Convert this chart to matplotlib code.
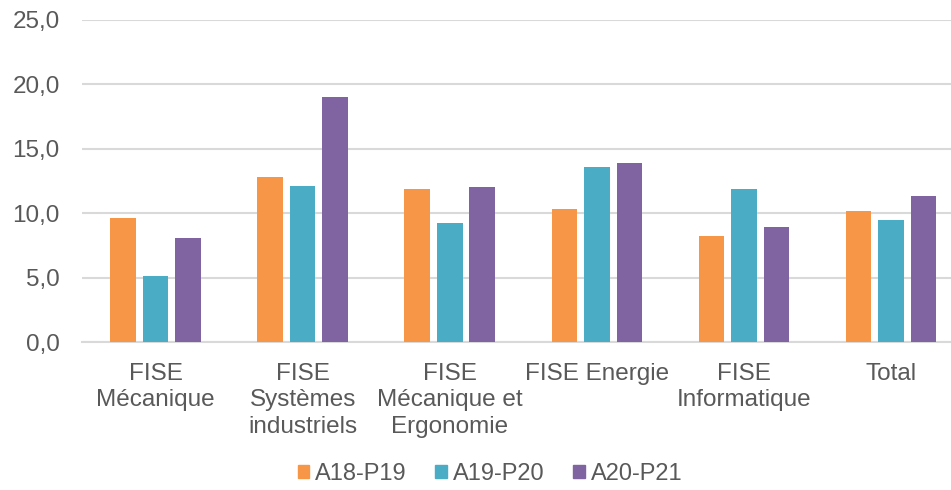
import matplotlib.pyplot as plt
import numpy as np
from matplotlib.patches import Patch
from matplotlib.ticker import FuncFormatter

plt.rcParams['font.family'] = ['Liberation Sans', 'DejaVu Sans']

categories = ["FISE\nMécanique", "FISE\nSystèmes\nindustriels", "FISE\nMécanique et\nErgonomie",
              "FISE Energie", "FISE\nInformatique", "Total"]
series = ["A18-P19", "A19-P20", "A20-P21"]
a18_p19 = [9.6, 12.8, 11.9, 10.3, 8.2, 10.2]
a19_p20 = [5.1, 12.1, 9.2, 13.6, 11.9, 9.5]
a20_p21 = [8.1, 19.0, 12.0, 13.9, 8.9, 11.3]
colors = ["#F79646", "#4BACC6", "#8064A2"]

text_col = "#595959"
grid_col = "#D9D9D9"

fig = plt.figure(figsize=(9.51, 4.90), dpi=100)
ax = fig.add_axes([82/951, 148/490, 882.6/951, 322.1/490])

x = np.arange(len(categories))
w = 0.174
step = 0.221
for k, vals in enumerate([a18_p19, a19_p20, a20_p21]):
    ax.bar(x + (k - 1) * step, vals, width=w, color=colors[k], zorder=3)

ax.set_xlim(-0.5, len(categories) - 0.5)
ax.set_ylim(0, 25)
ax.set_yticks(np.arange(0, 26, 5))
ax.yaxis.set_major_formatter(FuncFormatter(lambda v, p: f"{v:.1f}".replace(".", ",")))
ax.grid(axis='y', color=grid_col, lw=1.5, zorder=0)
ax.set_axisbelow(True)
for s in ['top', 'right', 'left']:
    ax.spines[s].set_visible(False)
ax.spines['bottom'].set_color(grid_col)
ax.spines['bottom'].set_linewidth(1.5)

ax.set_xticks(x)
ax.set_xticklabels(categories, fontsize=17.5, color=text_col, linespacing=1.26, va='top')
ax.tick_params(axis='x', length=0, pad=15)
ax.tick_params(axis='y', length=0, pad=16, labelsize=17.5, labelcolor=text_col)

handles = [Patch(color=c, label=s) for c, s in zip(colors, series)]
leg = fig.legend(handles=handles, loc='center', bbox_to_anchor=(490/951, 16/490), ncol=3,
                 frameon=False, fontsize=17, handlelength=0.5, handleheight=0.5,
                 handletextpad=0.25, columnspacing=1.2)
for t in leg.get_texts():
    t.set_color(text_col)

fig.savefig("out.png", dpi=100)
